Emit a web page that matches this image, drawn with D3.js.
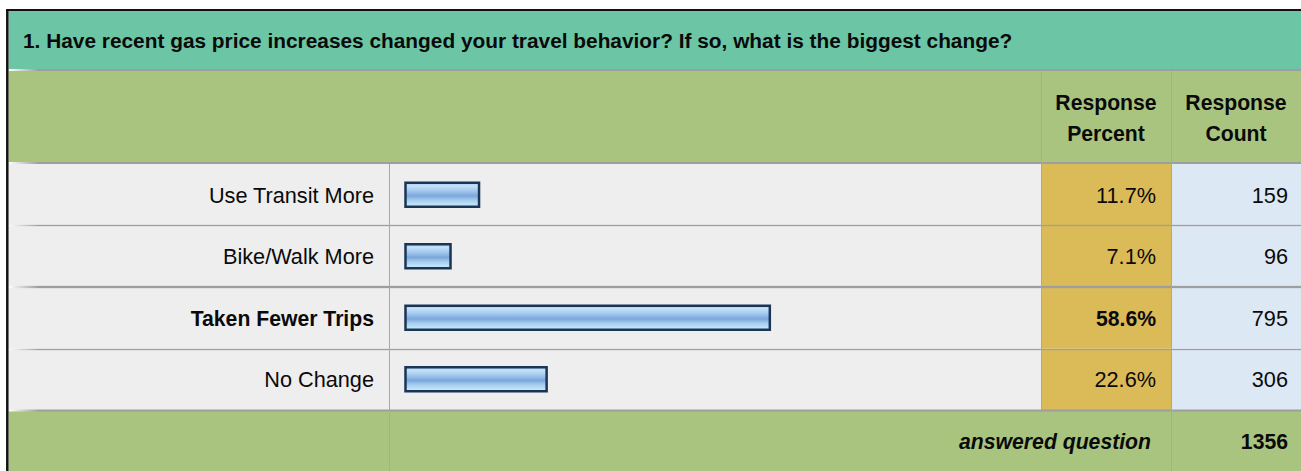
<!DOCTYPE html>
<html>
<head>
<meta charset="utf-8">
<script src="https://cdn.jsdelivr.net/npm/d3@7"></script>
<style>
  html, body { margin: 0; padding: 0; background: #fff; }
  svg { display: block; font-family: "Liberation Sans", Arial, sans-serif; }
</style>
</head>
<body>
<svg id="chart" width="1301" height="471"></svg>
<script>
const title = '1. Have recent gas price increases changed your travel behavior? If so, what is the biggest change?';
const categories = ['Use Transit More', 'Bike/Walk More', 'Taken Fewer Trips', 'No Change'];
const percents = [11.7, 7.1, 58.6, 22.6];
const counts = [159, 96, 795, 306];
const highlighted = ['Taken Fewer Trips'];
const headerLabels = [['Response', 'Percent'], ['Response', 'Count']];
const footerLabel = 'answered question';
const answeredTotal = 1356;

const rows = categories.map((c, i) => ({ name: c, pct: percents[i], count: counts[i], bold: highlighted.includes(c) }));

const W = 1301, H = 471;
const leftX = 8.5, topY = 11;
const colLabel = 389, colPct = 1041, colCount = 1171;
const fsBold = 21.2, fsReg = 21.7;
const fsOf = (bold) => bold ? fsBold : fsReg;

const svg = d3.select('#chart');
const defs = svg.append('defs');

const barGrad = defs.append('linearGradient').attr('id', 'barGrad')
  .attr('x1', 0).attr('y1', 0).attr('x2', 0).attr('y2', 1);
[[0, '#a6cdf0'], [0.12, '#c4e1f8'], [0.3, '#a9cdf0'], [0.55, '#7aa7db'], [0.72, '#a4ccef'], [1, '#cdeefa']]
  .forEach(([o, c]) => barGrad.append('stop').attr('offset', o).attr('stop-color', c));

const lineGrad = defs.append('linearGradient').attr('id', 'lineGrad')
  .attr('gradientUnits', 'userSpaceOnUse')
  .attr('x1', leftX).attr('x2', leftX + 30).attr('y1', 0).attr('y2', 0);
lineGrad.append('stop').attr('offset', 0).attr('stop-color', '#ffffff');
lineGrad.append('stop').attr('offset', 1).attr('stop-color', '#9e9e9e');

const y = d3.scaleBand().domain(categories).range([164, 410]);
const x = d3.scaleLinear().domain([0, 100]).range([0, 620]);

// backgrounds
svg.append('rect').attr('x', leftX).attr('y', topY).attr('width', W - leftX).attr('height', 59).attr('fill', '#6cc6a6');
svg.append('rect').attr('x', leftX).attr('y', 70).attr('width', W - leftX).attr('height', 94).attr('fill', '#a9c47f');
svg.append('rect').attr('x', leftX).attr('y', 410).attr('width', W - leftX).attr('height', H - 410).attr('fill', '#a9c47f');

const rowG = svg.append('g').selectAll('g').data(rows).join('g')
  .attr('transform', d => `translate(0,${y(d.name)})`);

rowG.append('rect').attr('x', leftX).attr('width', colPct - leftX).attr('height', y.bandwidth()).attr('fill', '#eeeeee');
rowG.append('rect').attr('x', colPct).attr('width', colCount - colPct).attr('height', y.bandwidth()).attr('fill', '#dbbb58');
rowG.append('rect').attr('x', colCount).attr('width', W - colCount).attr('height', y.bandwidth()).attr('fill', '#dde8f5');

// bars
rowG.append('rect')
  .attr('x', 405.5)
  .attr('y', y.bandwidth() / 2 - 12)
  .attr('width', d => x(d.pct) + 1)
  .attr('height', 24)
  .attr('fill', 'url(#barGrad)')
  .attr('stroke', '#1b3556')
  .attr('stroke-width', 2.5);

const mid = y.bandwidth() / 2 + 8;
rowG.append('text').attr('x', 374).attr('y', mid).attr('text-anchor', 'end')
  .attr('font-size', d => fsOf(d.bold)).attr('font-weight', d => d.bold ? 'bold' : 'normal').attr('fill', '#0a0a0a')
  .text(d => d.name);
rowG.append('text').attr('x', 1156).attr('y', mid).attr('text-anchor', 'end')
  .attr('font-size', d => fsOf(d.bold)).attr('font-weight', d => d.bold ? 'bold' : 'normal').attr('fill', '#0a0a0a')
  .text(d => d.pct.toFixed(1) + '%');
rowG.append('text').attr('x', 1288).attr('y', mid).attr('text-anchor', 'end')
  .attr('font-size', fsReg).attr('fill', '#0a0a0a')
  .text(d => d.count);

// horizontal rules
const hLines = [[70, 2], [163, 2], [225.5, 1.3], [287, 2.3], [349.5, 1.3], [410.5, 2]];
svg.append('g').selectAll('rect').data(hLines).join('rect')
  .attr('x', leftX).attr('y', d => d[0] - d[1] / 2).attr('width', W - leftX).attr('height', d => d[1])
  .attr('fill', 'url(#lineGrad)');

// vertical rules
const vLines = [[colLabel, 164, H], [colPct, 71, 410], [colCount, 71, H]];
svg.append('g').selectAll('line').data(vLines).join('line')
  .attr('x1', d => d[0] + 0.5).attr('x2', d => d[0] + 0.5)
  .attr('y1', d => d[1]).attr('y2', d => d[2])
  .attr('stroke', '#a8a8a8').attr('stroke-width', 1);

// title
svg.append('text').attr('x', 23).attr('y', 48).attr('font-size', 20.85).attr('font-weight', 'bold')
  .attr('fill', '#0a0a0a').text(title);

// header
const headG = svg.append('g').selectAll('text').data(headerLabels).join('text')
  .attr('x', (d, i) => i === 0 ? (colPct + colCount) / 2 : (colCount + W) / 2)
  .attr('text-anchor', 'middle').attr('font-size', fsBold).attr('font-weight', 'bold').attr('fill', '#0a0a0a');
headG.selectAll('tspan').data(d => d).join('tspan')
  .attr('x', function () { return this.parentNode.getAttribute('x'); })
  .attr('y', (d, i) => 110 + i * 31)
  .text(d => d);

// footer
svg.append('text').attr('x', 1151).attr('y', 449).attr('text-anchor', 'end')
  .attr('font-size', fsBold).attr('font-weight', 'bold').attr('font-style', 'italic').attr('fill', '#0a0a0a')
  .text(footerLabel);
svg.append('text').attr('x', 1288).attr('y', 449).attr('text-anchor', 'end')
  .attr('font-size', fsBold).attr('font-weight', 'bold').attr('fill', '#0a0a0a')
  .text(answeredTotal);

// outer border
svg.append('line').attr('x1', 6).attr('x2', W).attr('y1', 10).attr('y2', 10).attr('stroke', '#111').attr('stroke-width', 2);
svg.append('line').attr('x1', 7.3).attr('x2', 7.3).attr('y1', 9).attr('y2', H).attr('stroke', '#111').attr('stroke-width', 2.5);
</script>
</body>
</html>
